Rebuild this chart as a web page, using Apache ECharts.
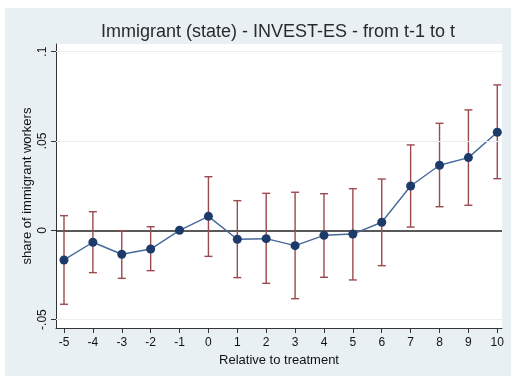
<!DOCTYPE html>
<html>
<head>
<meta charset="utf-8">
<script src="https://cdn.jsdelivr.net/npm/echarts@6/dist/echarts.min.js"></script>
<style>
  html, body { margin: 0; padding: 0; background: #ffffff; }
  #chart { width: 511px; height: 379px; }
</style>
</head>
<body>
<div id="chart"></div>
<script>
// Event-study estimates by period relative to treatment
const periods = [-5, -4, -3, -2, -1, 0, 1, 2, 3, 4, 5, 6, 7, 8, 9, 10];
const estimate = [-0.0166, -0.0067, -0.0134, -0.0105, 0.0000, 0.0078, -0.0050, -0.0047,
                  -0.0086, -0.0028, -0.0021, 0.0045, 0.0248, 0.0364, 0.0407, 0.0549];
const ciLow = [-0.0414, -0.0237, -0.0269, -0.0226, 0.0000, -0.0146, -0.0265, -0.0297,
               -0.0383, -0.0263, -0.0278, -0.0198, 0.0018, 0.0132, 0.0140, 0.0289];
const ciHigh = [0.0082, 0.0104, -0.0002, 0.0020, 0.0000, 0.0300, 0.0166, 0.0207,
                0.0213, 0.0205, 0.0233, 0.0287, 0.0478, 0.0599, 0.0674, 0.0814];

const xTicks = [-5, -4, -3, -2, -1, 0, 1, 2, 3, 4, 5, 6, 7, 8, 9, 10];
const yTicks = [-0.05, 0, 0.05, 0.1];
const yGrid = [-0.05, 0.05, 0.1];

const FONT = '"Liberation Sans", Arial, sans-serif';
const BG = '#e9f0f3';

function fmtY(v) {
  if (v === 0) return '0';
  return String(v).replace('0.', '.');
}

const chart = echarts.init(document.getElementById('chart'), null, { renderer: 'canvas' });

const option = {
  backgroundColor: '#ffffff',
  animation: false,
  graphic: [{
    type: 'rect',
    z: -10,
    shape: { x: 5, y: 8, width: 506, height: 368 },
    style: { fill: BG }
  }],
  title: {
    text: 'Immigrant (state) - INVEST-ES - from t-1 to t',
    left: 101,
    top: 23,
    padding: 0,
    textStyle: { fontFamily: FONT, fontSize: 18, fontWeight: 'normal', color: '#2a2a2a' }
  },
  grid: {
    left: 56, right: 9, top: 44, bottom: 51,
    show: true, backgroundColor: '#ffffff', borderWidth: 0
  },
  xAxis: {
    type: 'value',
    min: -5.277, max: 10.163,
    name: 'Relative to treatment',
    nameLocation: 'middle',
    nameGap: 22,
    nameTextStyle: { fontFamily: FONT, fontSize: 13, color: '#111' },
    axisLine: { show: true, onZero: false, lineStyle: { color: '#333', width: 1 } },
    axisTick: { show: true, length: 5, customValues: xTicks, lineStyle: { color: '#333' } },
    axisLabel: { customValues: xTicks, margin: 9, fontFamily: FONT, fontSize: 12, color: '#111' },
    splitLine: { show: false }
  },
  yAxis: {
    type: 'value',
    min: -0.0547, max: 0.1043,
    name: 'share of immigrant workers',
    nameLocation: 'middle',
    nameGap: 22,
    nameMoveOverlap: false,
    nameTextStyle: { fontFamily: FONT, fontSize: 13, color: '#111' },
    axisLine: { show: true, onZero: false, lineStyle: { color: '#333', width: 1 } },
    axisTick: { show: true, length: 5, customValues: yTicks, lineStyle: { color: '#333' } },
    axisLabel: {
      customValues: yTicks, rotate: 90, margin: 7,
      fontFamily: FONT, fontSize: 12, color: '#111',
      formatter: fmtY
    },
    splitLine: { show: false }
  },
  series: [
    {
      // confidence intervals with end caps
      type: 'custom',
      z: 2,
      data: periods.map((p, i) => [p, ciLow[i], ciHigh[i]]),
      renderItem: function (params, api) {
        const x = api.value(0);
        const lo = api.coord([x, api.value(1)]);
        const hi = api.coord([x, api.value(2)]);
        const cap = 4;
        const st = { stroke: '#9b4a4e', lineWidth: 1.4, fill: null };
        return {
          type: 'group',
          children: [
            { type: 'line', shape: { x1: lo[0], y1: lo[1], x2: hi[0], y2: hi[1] }, style: st },
            { type: 'line', shape: { x1: lo[0] - cap, y1: lo[1], x2: lo[0] + cap, y2: lo[1] }, style: st },
            { type: 'line', shape: { x1: hi[0] - cap, y1: hi[1], x2: hi[0] + cap, y2: hi[1] }, style: st }
          ]
        };
      },
      markLine: {
        silent: true,
        symbol: 'none',
        label: { show: false },
        lineStyle: { color: '#e6eef1', width: 1, type: 'solid' },
        data: yGrid.map(v => ({ yAxis: v }))
      }
    },
    {
      type: 'line',
      z: 3,
      data: periods.map((p, i) => [p, estimate[i]]),
      symbol: 'circle',
      symbolSize: 9,
      lineStyle: { color: '#46699a', width: 1.4 },
      itemStyle: { color: '#1c3a6a' },
      markLine: {
        silent: true,
        symbol: 'none',
        label: { show: false },
        z: 1,
        lineStyle: { color: '#222', width: 1.5, type: 'solid' },
        data: [{ yAxis: 0 }]
      }
    }
  ]
};

chart.setOption(option);
</script>
</body>
</html>
